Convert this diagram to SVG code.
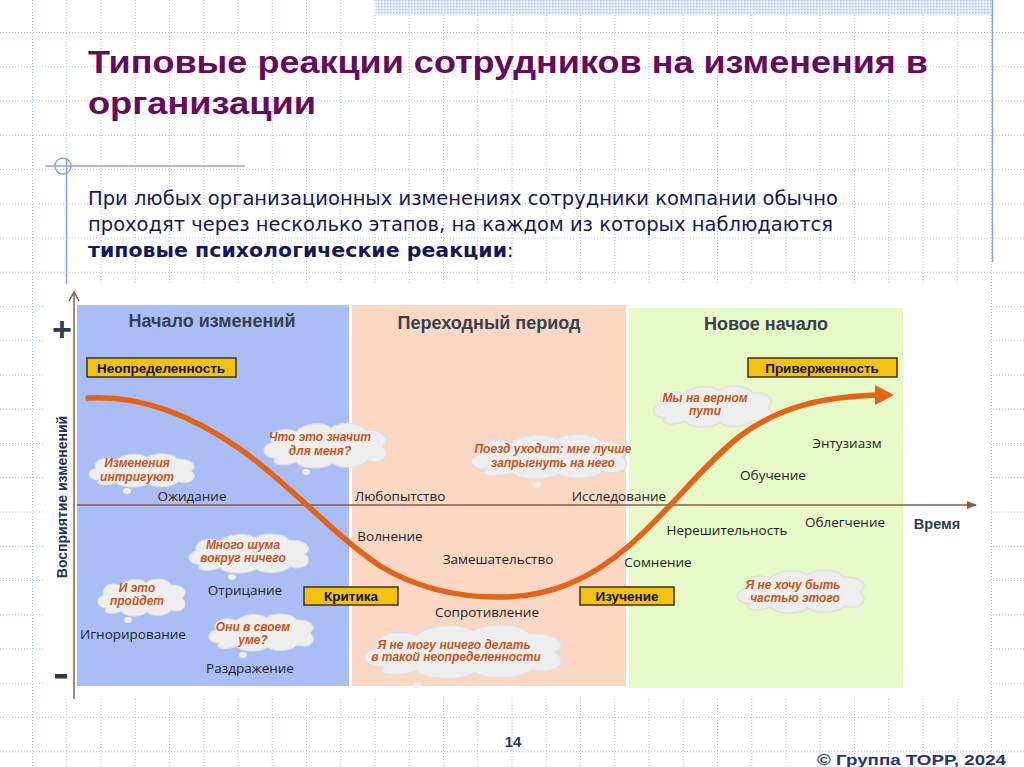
<svg xmlns="http://www.w3.org/2000/svg" xmlns:xlink="http://www.w3.org/1999/xlink" width="1024" height="767" viewBox="0 0 1024 767">
<defs>
<style>
.grid line{stroke:#aebfe6;stroke-width:1;stroke-dasharray:1 2}
.title{font-family:"Liberation Sans",Arial,sans-serif;font-weight:bold;font-size:32px;fill:#660a5e}
.sub{font-family:"DejaVu Sans",Verdana,sans-serif;font-size:19px;fill:#14185a}
.lab{font-family:"Open Sans","Liberation Sans",sans-serif;font-size:13.5px;fill:#1e1e1e;text-anchor:middle}
.cl{font-family:"Liberation Sans",Arial,sans-serif;font-weight:bold;font-style:italic;font-size:12px;fill:#c4561c;text-anchor:middle}
.box rect{fill:#f1c20f;stroke:#3a3020;stroke-width:1.5}
.box text{font-family:"Liberation Sans",Arial,sans-serif;font-weight:bold;font-size:13.5px;fill:#111;text-anchor:middle}
.pt{font-family:"Liberation Sans",Arial,sans-serif;font-weight:bold;font-size:18px;fill:#36414f;text-anchor:middle}
.cloudfill{fill:#eeeeee;stroke:#e0e0e0;stroke-width:1}
.foot{font-family:"Liberation Sans",Arial,sans-serif;font-weight:bold;font-size:15px;fill:#2b3470}
</style>
<symbol id="cloud" viewBox="0 0 100 40" preserveAspectRatio="none">
<path d="M14,31 C4,31 2,21 11,18 C8,9 20,4 29,9 C34,2 49,0 55,6 C62,0 78,1 81,8 C93,7 100,15 93,21 C100,28 93,37 82,33 C76,40 61,40 56,35 C49,41 33,40 29,34 C21,38 9,37 14,31 Z"/>
</symbol>
<pattern id="dots" width="3" height="3" patternUnits="userSpaceOnUse">
<rect width="3" height="3" fill="#e6ecfa"/>
<rect width="1.5" height="1.5" fill="#b9c8ec"/>
</pattern>
<marker id="ah" viewBox="0 0 10 10" refX="9" refY="5" markerWidth="7" markerHeight="7" orient="auto">
<path d="M0,1 L10,5 L0,9 Z" fill="#8c5a45"/>
</marker>
</defs>

<rect width="1024" height="767" fill="#ffffff"/>
<g class="grid" id="grid">
<line x1="32.5" y1="0" x2="32.5" y2="767"/><line x1="66.75" y1="0" x2="66.75" y2="767"/><line x1="101" y1="0" x2="101" y2="767"/><line x1="135.25" y1="0" x2="135.25" y2="767"/><line x1="169.5" y1="0" x2="169.5" y2="767"/><line x1="203.75" y1="0" x2="203.75" y2="767"/><line x1="238" y1="0" x2="238" y2="767"/><line x1="272.25" y1="0" x2="272.25" y2="767"/><line x1="306.5" y1="0" x2="306.5" y2="767"/><line x1="340.75" y1="0" x2="340.75" y2="767"/><line x1="375" y1="0" x2="375" y2="767"/><line x1="409.25" y1="0" x2="409.25" y2="767"/><line x1="443.5" y1="0" x2="443.5" y2="767"/><line x1="477.75" y1="0" x2="477.75" y2="767"/><line x1="512" y1="0" x2="512" y2="767"/><line x1="546.25" y1="0" x2="546.25" y2="767"/><line x1="580.5" y1="0" x2="580.5" y2="767"/><line x1="614.75" y1="0" x2="614.75" y2="767"/><line x1="649" y1="0" x2="649" y2="767"/><line x1="683.25" y1="0" x2="683.25" y2="767"/><line x1="717.5" y1="0" x2="717.5" y2="767"/><line x1="751.75" y1="0" x2="751.75" y2="767"/><line x1="786" y1="0" x2="786" y2="767"/><line x1="820.25" y1="0" x2="820.25" y2="767"/><line x1="854.5" y1="0" x2="854.5" y2="767"/><line x1="888.75" y1="0" x2="888.75" y2="767"/><line x1="923" y1="0" x2="923" y2="767"/><line x1="957.25" y1="0" x2="957.25" y2="767"/><line x1="991.5" y1="0" x2="991.5" y2="767"/>
<line x1="0" y1="32.5" x2="1024" y2="32.5"/><line x1="0" y1="66.75" x2="1024" y2="66.75"/><line x1="0" y1="101" x2="1024" y2="101"/><line x1="0" y1="135.25" x2="1024" y2="135.25"/><line x1="0" y1="169.5" x2="1024" y2="169.5"/><line x1="0" y1="203.75" x2="1024" y2="203.75"/><line x1="0" y1="238" x2="1024" y2="238"/><line x1="0" y1="272.25" x2="1024" y2="272.25"/><line x1="0" y1="306.5" x2="1024" y2="306.5"/><line x1="0" y1="340.75" x2="1024" y2="340.75"/><line x1="0" y1="375" x2="1024" y2="375"/><line x1="0" y1="409.25" x2="1024" y2="409.25"/><line x1="0" y1="443.5" x2="1024" y2="443.5"/><line x1="0" y1="477.75" x2="1024" y2="477.75"/><line x1="0" y1="512" x2="1024" y2="512"/><line x1="0" y1="546.25" x2="1024" y2="546.25"/><line x1="0" y1="580.5" x2="1024" y2="580.5"/><line x1="0" y1="614.75" x2="1024" y2="614.75"/><line x1="0" y1="649" x2="1024" y2="649"/><line x1="0" y1="683.25" x2="1024" y2="683.25"/><line x1="0" y1="717.5" x2="1024" y2="717.5"/><line x1="0" y1="751.75" x2="1024" y2="751.75"/>
</g>
<rect x="376" y="0" width="616" height="15" fill="url(#dots)"/>
<line x1="992.5" y1="0" x2="992.5" y2="262" stroke="#8da3dc" stroke-width="1.5"/>

<g id="title">
<text class="title" x="88" y="73" textLength="840" lengthAdjust="spacingAndGlyphs">Типовые реакции сотрудников на изменения в</text>
<text class="title" x="88" y="114" textLength="228" lengthAdjust="spacingAndGlyphs">организации</text>
</g>

<g id="deco" stroke="#8da3dc" stroke-width="1.5" fill="none">
<line x1="45" y1="166" x2="245" y2="166"/>
<line x1="66.5" y1="158" x2="66.5" y2="285"/>
<circle cx="63" cy="166" r="8"/>
</g>

<g id="subtitle">
<text class="sub" x="88" y="205" textLength="750" lengthAdjust="spacingAndGlyphs">При любых организационных изменениях сотрудники компании обычно</text>
<text class="sub" x="88" y="231" textLength="745" lengthAdjust="spacingAndGlyphs">проходят через несколько этапов, на каждом из которых наблюдаются</text>
<text class="sub" x="88" y="257"><tspan font-weight="bold" textLength="419" lengthAdjust="spacingAndGlyphs">типовые психологические реакции</tspan><tspan>:</tspan></text>
</g>

<g id="chart">
<rect x="44" y="284" width="945" height="413" fill="#ffffff"/>
<g id="panel-start"><rect x="77" y="305" width="272" height="381" fill="#aabef5"/><text class="pt" x="212" y="327">Начало изменений</text></g>
<g id="panel-transition"><rect x="352" y="305" width="274" height="381" fill="#fcd8c4"/><text class="pt" x="489" y="329">Переходный период</text></g>
<g id="panel-new"><rect x="629" y="308" width="274" height="380" fill="#e7f9c6"/><text class="pt" x="766" y="330">Новое начало</text></g>

<g id="axes" stroke="#8c5a45" stroke-width="1.5" fill="none">
<line x1="74" y1="293" x2="74" y2="699"/>
<polyline points="69,301 74,292 79,301"/>
<line x1="77" y1="505" x2="976" y2="505" marker-end="url(#ah)"/>
</g>
<text x="62" y="341" font-family="Liberation Sans,Arial,sans-serif" font-weight="bold" font-size="34" fill="#2f3b4a" text-anchor="middle">+</text>
<rect x="55" y="674" width="12" height="4.5" fill="#2f3b4a"/>
<text transform="translate(67,497) rotate(-90)" font-family="Liberation Sans,Arial,sans-serif" font-weight="bold" font-size="14" fill="#24305e" text-anchor="middle">Восприятие изменений</text>
<text x="937" y="529" font-family="Liberation Sans,Arial,sans-serif" font-weight="bold" font-size="14.5" fill="#2e3a55" text-anchor="middle">Время</text>

<g id="clouds">
<g id="c1"><use href="#cloud" x="83" y="452" width="116" height="36" class="cloudfill"/><ellipse cx="127" cy="491" rx="4" ry="3" fill="#eeeeee"/><text class="cl" x="137" y="467">Изменения</text><text class="cl" x="137" y="481">интригуют</text></g>
<g id="c2"><use href="#cloud" x="257" y="421" width="135" height="48" class="cloudfill"/><ellipse cx="306" cy="472" rx="4" ry="3" fill="#eeeeee"/><text class="cl" x="320" y="441">Что это значит</text><text class="cl" x="320" y="455">для меня?</text></g>
<g id="c3"><use href="#cloud" x="462" y="432" width="172" height="48" class="cloudfill"/><ellipse cx="537" cy="485" rx="4" ry="3" fill="#eeeeee"/><text class="cl" x="553" y="453">Поезд уходит: мне лучше</text><text class="cl" x="553" y="467">запрыгнуть на него</text></g>
<g id="c4"><use href="#cloud" x="647" y="384" width="130" height="44" class="cloudfill"/><ellipse cx="770" cy="422" rx="4" ry="3" fill="#eeeeee"/><text class="cl" x="705" y="402">Мы на верном</text><text class="cl" x="705" y="415">пути</text></g>
<g id="c5"><use href="#cloud" x="182" y="532" width="132" height="42" class="cloudfill"/><ellipse cx="232" cy="577" rx="4" ry="3" fill="#eeeeee"/><text class="cl" x="243" y="549">Много шума</text><text class="cl" x="243" y="562">вокруг ничего</text></g>
<g id="c6"><use href="#cloud" x="93" y="577" width="96" height="40" class="cloudfill"/><ellipse cx="128" cy="620" rx="4" ry="3" fill="#eeeeee"/><text class="cl" x="137" y="592">И это</text><text class="cl" x="137" y="605">пройдет</text></g>
<g id="c7"><use href="#cloud" x="203" y="612" width="115" height="40" class="cloudfill"/><ellipse cx="243" cy="655" rx="4" ry="3" fill="#eeeeee"/><text class="cl" x="253" y="631">Они в своем</text><text class="cl" x="253" y="644">уме?</text></g>
<g id="c8"><use href="#cloud" x="353" y="622" width="218" height="58" class="cloudfill"/><ellipse cx="417" cy="685" rx="4" ry="3" fill="#eeeeee"/><text class="cl" x="454" y="649">Я не могу ничего делать</text><text class="cl" x="456" y="661">в такой неопределенности</text></g>
<g id="c9"><use href="#cloud" x="730" y="568" width="140" height="46" class="cloudfill"/><ellipse cx="858" cy="612" rx="4" ry="3" fill="#eeeeee"/><text class="cl" x="793" y="589">Я не хочу быть</text><text class="cl" x="795" y="602">частью этого</text></g>
</g>

<g id="curve">
<path d="M88,398 C140,395 190,414 240,449 C290,484 330,532 380,566 C420,590 465,598 505,597 C550,596 590,580 630,545 C670,510 700,468 740,436 C780,407 820,397 878,395" fill="none" stroke="#e2641a" stroke-width="5.5" stroke-linecap="round"/>
<polygon points="875,385 894,395 875,405" fill="#e2641a"/>
</g>

<g id="boxes">
<g class="box" id="b1"><rect x="87" y="358" width="149" height="19"/><text x="161" y="372.5">Неопределенность</text></g>
<g class="box" id="b2"><rect x="304" y="587" width="94" height="18"/><text x="351" y="601">Критика</text></g>
<g class="box" id="b3"><rect x="580" y="587" width="94" height="18"/><text x="627" y="601">Изучение</text></g>
<g class="box" id="b4"><rect x="748" y="358" width="149" height="19"/><text x="822" y="372.5">Приверженность</text></g>
</g>

<g id="labels">
<text class="lab" x="192" y="501">Ожидание</text>
<text class="lab" x="400" y="501">Любопытство</text>
<text class="lab" x="619" y="501">Исследование</text>
<text class="lab" x="390" y="541">Волнение</text>
<text class="lab" x="498" y="564">Замешательство</text>
<text class="lab" x="487" y="617">Сопротивление</text>
<text class="lab" x="658" y="567">Сомнение</text>
<text class="lab" x="727" y="535">Нерешительность</text>
<text class="lab" x="845" y="527">Облегчение</text>
<text class="lab" x="847" y="448">Энтузиазм</text>
<text class="lab" x="773" y="480">Обучение</text>
<text class="lab" x="245" y="595">Отрицание</text>
<text class="lab" x="133" y="639">Игнорирование</text>
<text class="lab" x="250" y="673">Раздражение</text>
</g>
</g>

<g id="footer">
<text class="foot" x="513" y="747" text-anchor="middle">14</text>
<text class="foot" x="1006" y="765" text-anchor="end" textLength="189" lengthAdjust="spacingAndGlyphs">© Группа ТОРР, 2024</text>
</g>
</svg>
